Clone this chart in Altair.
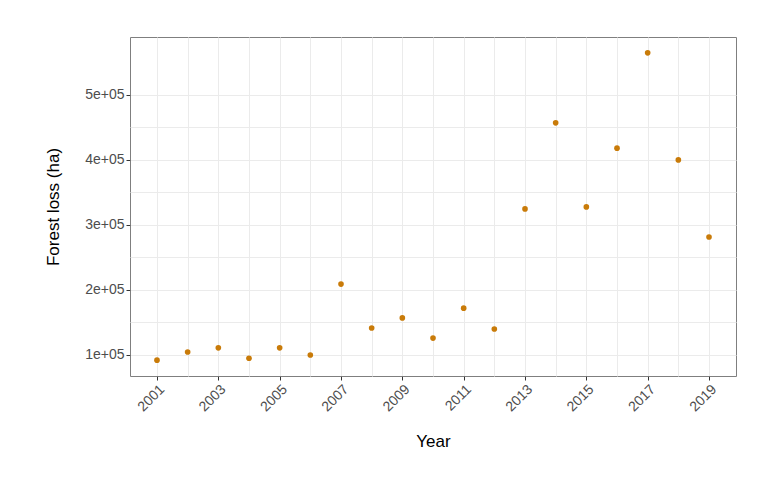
import altair as alt
import pandas as pd

anos = list(range(2001, 2020))
perda = [92000, 104600, 111000, 95000, 111000, 100000, 209000, 141500, 157000, 126000,
         172000, 140000, 324600, 457000, 327700, 418000, 564600, 400000, 281500]
marcas_y = [100000, 150000, 200000, 250000, 300000, 350000, 400000, 450000, 500000]

dados = pd.DataFrame({"Year": anos, "Loss": perda})

grafico = alt.Chart(dados).mark_circle(size=32, color="#C97B09", opacity=1).encode(
    x=alt.X("Year:Q", title="Year", scale=alt.Scale(domain=[2000.12, 2019.88], nice=False, zero=False),
            axis=alt.Axis(values=anos, labelExpr="datum.value % 2 == 1 ? datum.value : ''",
                          tickOpacity={"expr": "datum.value % 2 == 1 ? 1 : 0"},
                          labelAngle=-45, labelAlign="right", labelBaseline="top", format="d",
                          titlePadding=20)),
    y=alt.Y("Loss:Q", title="Forest loss (ha)", scale=alt.Scale(domain=[67700, 589000], nice=False, zero=False),
            axis=alt.Axis(values=marcas_y,
                          labelExpr="datum.value % 100000 == 0 ? (datum.value/100000) + 'e+05' : ''",
                          tickOpacity={"expr": "datum.value % 100000 == 0 ? 1 : 0"},
                          titlePadding=22)),
).properties(width=606, height=339, autosize=alt.AutoSizeParams(type="none"),
             padding={"left": 122, "top": 29, "right": 30, "bottom": 110})

grafico = grafico.configure(background="white", font="Liberation Sans").configure_view(
    stroke="#7f7f7f", strokeWidth=1
).configure_axis(
    gridColor="#ebebeb", domain=False, tickColor="#333333", tickSize=4,
    labelColor="#4d4d4d", labelFontSize=14, titleFontSize=17, titleFontWeight="normal",
    titleColor="black"
)

grafico.save("out.html", embed_options={"renderer": "svg", "actions": False})
